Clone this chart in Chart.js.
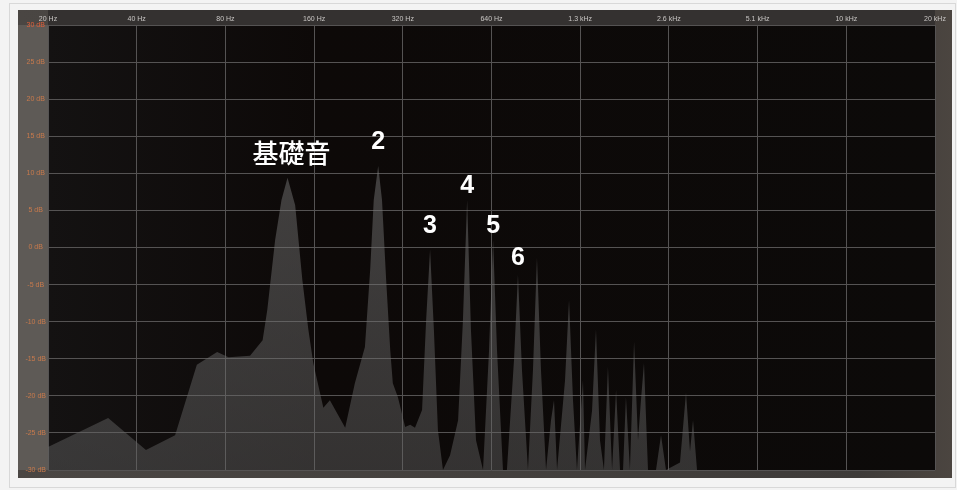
<!DOCTYPE html>
<html>
<head>
<meta charset="utf-8">
<script src="https://cdn.jsdelivr.net/npm/chart.js@4"></script>
<style>
  html, body { margin: 0; padding: 0; background: #f3f3f3; }
  #wrap { width: 957px; height: 490px; }
</style>
</head>
<body>
<div id="wrap"><canvas id="myChart" width="957" height="490"></canvas></div>
<script>
// spectrum (Hz / dB)
const freqs = [20, 32, 43, 54, 64, 75, 82, 97, 107, 111, 118, 124, 130, 138, 146, 153, 159, 172, 181, 204,
  220, 238, 248, 255, 264, 272, 281, 290, 296, 308, 326, 339, 352, 372, 384, 396, 408, 421, 438, 463,
  493, 512, 529, 545, 567, 599, 628, 648, 668, 700, 722, 763, 787, 812, 851, 885, 913, 942, 980, 1019,
  1043, 1068, 1137, 1173, 1210, 1248, 1308, 1329, 1404, 1448, 1494, 1541, 1590, 1642, 1694, 1747, 1789, 1830, 1888, 1950,
  2011, 2058, 2107, 2174, 2315, 2407, 2502, 2792, 2926, 3019, 3091, 3189, 20480];
const levels = [-26.9, -23.0, -27.3, -25.3, -15.8, -14.1, -14.8, -14.6, -12.5, -8.4, 1.0, 6.4, 9.4, 5.7, -4.4, -11.1, -15.6, -21.6, -20.6, -24.3,
  -18.3, -13.4, -3.0, 6.4, 11.0, 6.4, -4.4, -13.8, -18.3, -20.2, -24.2, -23.9, -24.3, -21.9, -9.8, -0.3, -11.1, -24.6, -30, -28.0,
  -23.3, -9.8, 6.4, -11.1, -26.0, -30, -13.8, 1.0, -13.8, -30, -30, -15.2, -3.7, -16.5, -30, -16.5, -1.4, -16.5, -30, -23.3,
  -20.6, -30, -17.9, -7.1, -20.6, -30, -17.9, -30, -22, -11.1, -26.0, -30, -16.1, -30, -19.2, -30, -30, -20.2, -30, -12.7,
  -26.0, -20.6, -15.6, -30, -30, -25.3, -30, -29, -19.6, -27.5, -23.3, -30, -30];

const xTickValues = [20, 40, 80, 160, 320, 640, 1280, 2560, 5120, 10240, 20480];
const xTickLabels = ['20 Hz', '40 Hz', '80 Hz', '160 Hz', '320 Hz', '640 Hz', '1.3 kHz', '2.6 kHz', '5.1 kHz', '10 kHz', '20 kHz'];
const yTickValues = [30, 25, 20, 15, 10, 5, 0, -5, -10, -15, -20, -25, -30];

const noteTexts = ['基礎音', '2', '3', '4', '5', '6'];
const noteFreqs = [134, 264, 396, 529, 648, 787];
const noteLevels = [12.7, 14.2, 2.9, 8.3, 2.9, -1.4];

const points = [];
for (let i = 0; i < freqs.length; i++) {
  points.push({x: freqs[i], y: levels[i]});
}

const panel = {
  id: 'panel',
  beforeDraw(chart) {
    const c = chart.ctx;
    const a = chart.chartArea;
    c.save();
    c.fillStyle = '#f3f3f3';
    c.fillRect(0, 0, chart.width, chart.height);
    c.strokeStyle = '#d8d8d8';
    c.strokeRect(9.5, 3.5, 946, 484);
    // frame
    let g = c.createLinearGradient(18, 0, 952, 0);
    g.addColorStop(0, '#4a4643');
    g.addColorStop(0.9, '#3e3b39');
    g.addColorStop(1, '#4b4540');
    c.fillStyle = g;
    c.fillRect(18, 10, 934, 468);
    // top strip
    c.fillStyle = '#343130';
    c.fillRect(a.left, 10, a.right - a.left, a.top - 10);
    // left column
    c.fillStyle = '#5e5a56';
    c.fillRect(18, a.top, a.left - 18, a.bottom - a.top);
    // plot
    g = c.createLinearGradient(a.left, 0, a.right, 0);
    g.addColorStop(0, '#141212');
    g.addColorStop(0.3, '#0d0908');
    g.addColorStop(1, '#0c0a09');
    c.fillStyle = g;
    c.fillRect(a.left, a.top, a.right - a.left, a.bottom - a.top);
    c.restore();
  },
  afterDatasetsDraw(chart) {
    const c = chart.ctx;
    const xs = chart.scales.x, ys = chart.scales.y;
    c.save();
    c.fillStyle = '#ffffff';
    c.textAlign = 'center';
    c.textBaseline = 'middle';
    for (let i = 0; i < noteTexts.length; i++) {
      c.font = i === 0 ? '500 26px "Noto Sans CJK JP"' : 'bold 25px "Liberation Sans"';
      c.fillText(noteTexts[i], xs.getPixelForValue(noteFreqs[i]), ys.getPixelForValue(noteLevels[i]));
    }
    c.restore();
  }
};

const ctx = document.getElementById('myChart');
new Chart(ctx, {
  type: 'line',
  data: {
    datasets: [{
      data: points,
      borderWidth: 0,
      borderColor: 'rgba(0,0,0,0)',
      pointRadius: 0,
      tension: 0,
      fill: 'start',
      backgroundColor: function(context) {
        const a = context.chart.chartArea;
        if (!a) return 'rgba(110,110,110,0.45)';
        const g = context.chart.ctx.createLinearGradient(0, a.top, 0, a.bottom);
        g.addColorStop(0, 'rgba(130,130,130,0.5)');
        g.addColorStop(1, 'rgba(100,100,100,0.45)');
        return g;
      }
    }]
  },
  options: {
    responsive: false,
    animation: false,
    layout: { padding: { left: 18, top: 10, right: 22, bottom: 20 } },
    plugins: { legend: { display: false }, tooltip: { enabled: false } },
    scales: {
      x: {
        type: 'logarithmic',
        position: 'top',
        min: 20,
        max: 20480,
        afterBuildTicks: s => { s.ticks = xTickValues.map(v => ({value: v})); },
        afterFit: s => { s.height = 15; },
        ticks: {
          autoSkip: false,
          maxRotation: 0,
          padding: 2,
          color: '#c9c6c4',
          font: { family: 'Liberation Sans', size: 7 },
          callback: (v, i) => xTickLabels[i]
        },
        grid: { color: '#555353', lineWidth: 1, drawTicks: false },
        border: { display: false }
      },
      y: {
        min: -30,
        max: 30,
        afterBuildTicks: s => { s.ticks = yTickValues.map(v => ({value: v})); },
        afterFit: s => { s.width = 30; },
        ticks: {
          padding: 2,
          crossAlign: 'center',
          color: ctx => ctx.index === 0 ? '#e2603a' : '#c97a4c',
          font: { family: 'Liberation Sans', size: 7 },
          callback: v => v + ' dB'
        },
        grid: { color: '#555353', lineWidth: 1, drawTicks: false },
        border: { display: false }
      }
    }
  },
  plugins: [panel]
});
</script>
</body>
</html>
